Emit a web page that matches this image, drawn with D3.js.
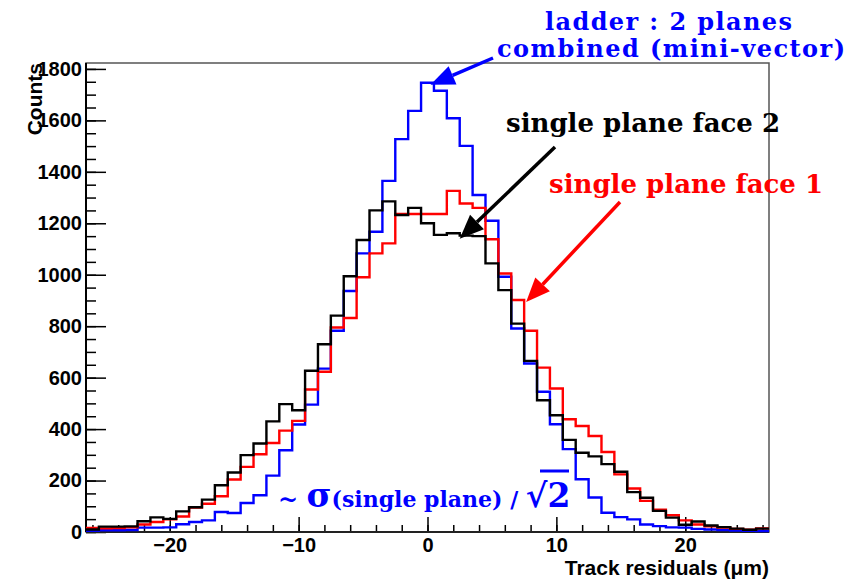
<!DOCTYPE html>
<html>
<head>
<meta charset="utf-8">
<script src="https://cdn.jsdelivr.net/npm/d3@7/dist/d3.min.js"></script>
<style>
  body { margin: 0; background: #fff; }
  .axis text { font-family: "Liberation Sans", Arial, sans-serif; font-weight: bold; font-size: 20px; fill: #000; }
  .axis path { display: none; }
  .axis line { stroke: #000; stroke-width: 1.5; }
  .note { font-family: "DejaVu Serif", serif; font-weight: bold; }
</style>
</head>
<body>
<div id="chart"></div>
<script>
// bin centres (µm), one bin per micron
const residualBins = [-26,-25,-24,-23,-22,-21,-20,-19,-18,-17,-16,-15,-14,-13,-12,-11,-10,-9,-8,-7,-6,-5,-4,-3,-2,-1,
  0,1,2,3,4,5,6,7,8,9,10,11,12,13,14,15,16,17,18,19,20,21,22,23,24,25,26];

// ladder, 2 planes combined (blue)
const ladderCounts = [5,7,7,8,17,17,18,30,39,45,78,74,113,143,219,318,418,495,635,782,937,1083,1167,1365,1527,1637,
  1746,1715,1608,1501,1310,1210,992,791,655,545,419,322,205,134,75,58,49,29,23,18,17,12,10,8,6,5,4];

// single plane face 1 (red)
const face1Counts = [16,14,15,18,29,39,49,60,95,110,139,204,253,302,346,394,432,554,623,795,832,990,1083,1122,1236,1236,
  1236,1236,1326,1277,1260,1138,1005,902,782,639,558,438,412,373,311,224,169,121,87,65,45,29,22,17,12,9,14];

// single plane face 2 (black)
const face2Counts = [10,21,21,22,42,57,51,80,96,126,182,231,299,344,430,497,473,627,730,841,994,1135,1250,1285,1232,1260,
  1200,1155,1161,1152,1150,1044,940,810,665,512,454,358,308,294,264,234,155,133,82,56,28,41,25,19,13,9,13];

const xMajorTicks = [-20, -10, 0, 10, 20];
const xMinorTicks = [-26,-24,-22,-20,-18,-16,-14,-12,-10,-8,-6,-4,-2,0,2,4,6,8,10,12,14,16,18,20,22,24,26];
const yMajorTicks = [0, 200, 400, 600, 800, 1000, 1200, 1400, 1600, 1800];
const yMinorTicks = d3.range(0, 1801, 50);

const width = 857, height = 579;
const margin = {left: 86, right: 88, top: 63, bottom: 47};

const svg = d3.select('#chart').append('svg')
    .attr('width', width).attr('height', height);

const x = d3.scaleLinear().domain([-26.5, 26.5]).range([margin.left, width - margin.right]);
const y = d3.scaleLinear().domain([0, 1823]).range([height - margin.bottom, margin.top]);

// frame
svg.append('rect')
    .attr('x', x(-26.5)).attr('y', y(1823))
    .attr('width', x(26.5) - x(-26.5)).attr('height', y(0) - y(1823))
    .attr('fill', 'none').attr('stroke', '#555').attr('stroke-width', 1.5);

// axes (ticks point into the frame)
svg.append('g').attr('class', 'axis')
    .attr('transform', `translate(0,${y(0)})`)
    .call(d3.axisBottom(x).tickValues(xMinorTicks).tickSize(-7).tickFormat(''));
svg.append('g').attr('class', 'axis')
    .attr('transform', `translate(0,${y(0)})`)
    .call(d3.axisBottom(x).tickValues(xMajorTicks).tickSize(-15).tickPadding(6).tickFormat(d3.format('d')));
svg.append('g').attr('class', 'axis')
    .attr('transform', `translate(${x(-26.5)},0)`)
    .call(d3.axisLeft(y).tickValues(yMinorTicks).tickSize(-10).tickFormat(''));
svg.append('g').attr('class', 'axis')
    .attr('transform', `translate(${x(-26.5)},0)`)
    .call(d3.axisLeft(y).tickValues(yMajorTicks).tickSize(-20).tickPadding(4).tickFormat(d3.format('d')));

svg.append('line')
    .attr('x1', x(-26.5)).attr('x2', x(-26.5)).attr('y1', y(0)).attr('y2', y(1823))
    .attr('stroke', '#000').attr('stroke-width', 2);
svg.append('line')
    .attr('x1', x(-26.5)).attr('x2', x(26.5)).attr('y1', y(0)).attr('y2', y(0))
    .attr('stroke', '#222').attr('stroke-width', 2);

// histograms
const step = d3.line().x(d => x(d[0])).y(d => y(d[1])).curve(d3.curveStepAfter);
function histPoints(counts) {
    let pts = counts.map((v, i) => [residualBins[i] - 0.5, v]);
    pts.push([residualBins[residualBins.length - 1] + 0.5, counts[counts.length - 1]]);
    return pts;
}
[[ladderCounts, '#0000ff'], [face1Counts, '#ff0000'], [face2Counts, '#000000']].forEach(function(h) {
    svg.append('path')
        .attr('d', step(histPoints(h[0])))
        .attr('fill', 'none').attr('stroke', h[1]).attr('stroke-width', 2.4);
});

// axis titles
svg.append('text')
    .attr('transform', `translate(42,${y(1823)}) rotate(-90)`)
    .attr('text-anchor', 'end')
    .style('font-family', '"Liberation Sans", Arial, sans-serif').style('font-weight', 'bold').style('font-size', '21px')
    .text('Counts');
svg.append('text')
    .attr('x', x(26.5)).attr('y', 575)
    .attr('text-anchor', 'end')
    .style('font-family', '"Liberation Sans", Arial, sans-serif').style('font-weight', 'bold').style('font-size', '21px')
    .text('Track residuals (μm)');

// annotations
function arrow(x1, y1, x2, y2, color) {
    const ang = Math.atan2(y2 - y1, x2 - x1), len = 24, half = 10;
    const bx = x2 - len * Math.cos(ang), by = y2 - len * Math.sin(ang);
    svg.append('line').attr('x1', x1).attr('y1', y1).attr('x2', bx).attr('y2', by)
        .attr('stroke', color).attr('stroke-width', 3.5);
    svg.append('path')
        .attr('d', `M${x2},${y2}L${bx - half * Math.sin(ang)},${by + half * Math.cos(ang)}L${bx + half * Math.sin(ang)},${by - half * Math.cos(ang)}Z`)
        .attr('fill', color);
}

svg.append('text').attr('class', 'note').attr('x', 545).attr('y', 30)
    .attr('textLength', 247).attr('lengthAdjust', 'spacing')
    .attr('fill', '#0000ff').style('font-size', '24px').text('ladder : 2 planes');
svg.append('text').attr('class', 'note').attr('x', 497).attr('y', 57)
    .attr('textLength', 348).attr('lengthAdjust', 'spacing')
    .attr('fill', '#0000ff').style('font-size', '24px').text('combined (mini-vector)');
arrow(493, 58, x(0) + 3, y(1746) + 2, '#0000ff');

svg.append('text').attr('class', 'note').attr('x', 506).attr('y', 132)
    .attr('fill', '#000').style('font-size', '26px').text('single plane face 2');
arrow(555, 147, x(2.5), y(1140), '#000');

svg.append('text').attr('class', 'note').attr('x', 549).attr('y', 193)
    .attr('fill', '#ff0000').style('font-size', '26px').text('single plane face 1');
arrow(620, 202, x(7.5) + 2, y(902) + 2, '#ff0000');

const sig = svg.append('text').attr('class', 'note').attr('x', 278).attr('y', 507).attr('fill', '#0000ff');
sig.append('tspan').style('font-size', '24px').text('~ ');
sig.append('tspan').style('font-size', '34px').text('σ');
sig.append('tspan').style('font-size', '22px').text('(single plane) / ');
sig.append('tspan').style('font-size', '33px').text('√2');
svg.append('line').attr('x1', 540).attr('x2', 569).attr('y1', 471).attr('y2', 471)
    .attr('stroke', '#0000ff').attr('stroke-width', 3);
</script>
</body>
</html>
